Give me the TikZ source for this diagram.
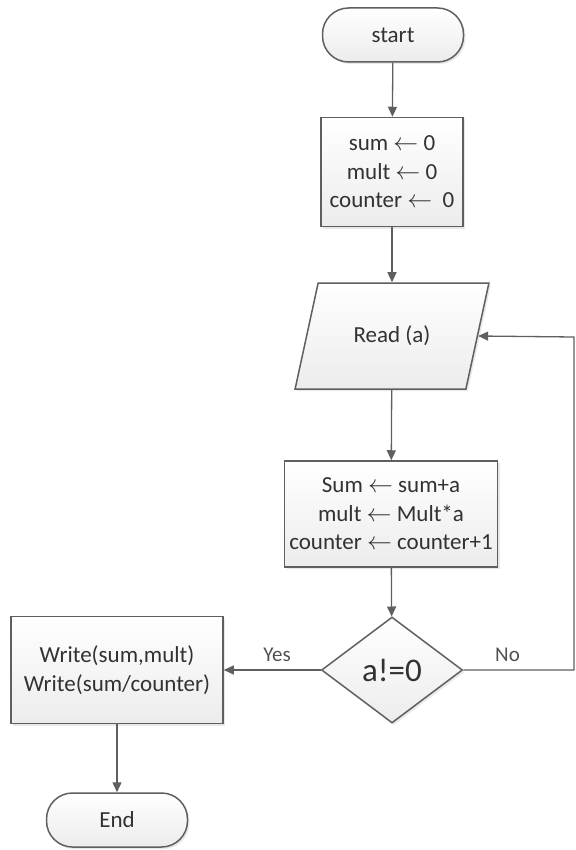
\documentclass[tikz,border=0pt]{standalone}
\usepackage{fontspec}
\setmainfont{Carlito}
\usepackage{tikz}
\usetikzlibrary{arrows.meta,positioning,shapes.geometric,shadows}
\definecolor{bordeFC}{RGB}{95,95,95}
\definecolor{textoFC}{RGB}{50,50,50}
\definecolor{rellenoFC}{RGB}{236,236,236}

\begin{document}
\begin{tikzpicture}[
  x=1pt, y=-1pt,
  every node/.style = {align=center, text=textoFC,
                       font=\fontsize{23}{28.5}\selectfont},
  base/.style  = {draw=bordeFC, line width=1.5pt,
                  top color=white, bottom color=rellenoFC,
                  drop shadow={opacity=0.18, shadow xshift=2pt, shadow yshift=-2pt}},
  term/.style  = {base, rectangle, rounded corners=26pt,
                  minimum width=141pt, minimum height=54pt},
  proc/.style  = {base, rectangle, minimum height=106pt},
  io/.style    = {base, trapezium, trapezium left angle=64,
                  trapezium right angle=116, trapezium stretches=true,
                  minimum width=194pt, minimum height=106pt},
  dec/.style   = {base, diamond, inner sep=0pt, aspect=1.33,
                  minimum width=141pt, minimum height=106pt,
                  font=\fontsize{33}{36}\selectfont},
  arr/.style   = {-{Triangle[length=10pt,width=9pt]}, line width=1.3pt,
                  draw=bordeFC},
  lbl/.style   = {font=\fontsize{21}{24}\selectfont, text=textoFC!85},
]
\useasboundingbox (0,0) rectangle (575,850);

% ── Nodos ────────────────────────────────────────────────────
\node[term] (start) at (393,35)  {start};
\node[proc, minimum width=142pt, minimum height=109pt] (init) at (392,172)
      {sum $\leftarrow$ 0\\ mult $\leftarrow$ 0\\ counter $\leftarrow$\ \ 0};
\node[io]   (read)  at (392,336) {Read (a)};
\node[proc, minimum width=213pt] (upd) at (391,514)
      {Sum $\leftarrow$ sum+a\\ mult $\leftarrow$ Mult*a\\ counter $\leftarrow$ counter+1};
\node[dec]  (cond)  at (392,670) {a!=0};
\node[proc, minimum width=212pt, minimum height=107pt] (out) at (117,670)
      {Write(sum,mult)\\ Write(sum/counter)};
\node[term] (fin)   at (117,820) {End};

\coordinate (vueltaA) at (574,670);
\coordinate (vueltaB) at (574,337);

% ── Flechas ──────────────────────────────────────────────────
\draw[arr] (start) -- (init);
\draw[arr] (init)  -- (read);
\draw[arr] (read)  -- (upd);
\draw[arr] (upd)   -- (cond);
\draw[arr] (cond)  -- node[lbl, above=4pt, pos=0.45]{Yes} (out);
\draw[arr] (out)   -- (fin);

% ── Lazo (No) ────────────────────────────────────────────────
\draw[arr] (cond.east) -- node[lbl, above=4pt, pos=0.4]{No} (vueltaA)
           -- (vueltaB) -- (read.east);

\end{tikzpicture}
\end{document}
